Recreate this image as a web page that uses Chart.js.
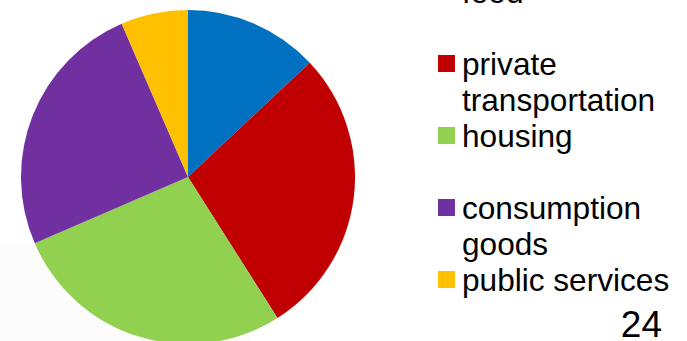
<!DOCTYPE html>
<html>
<head>
<meta charset="utf-8">
<script src="https://cdn.jsdelivr.net/npm/chart.js@4/dist/chart.umd.min.js"></script>
<style>
  html, body { margin: 0; padding: 0; background: #fff; overflow: hidden; }
  body { width: 687px; height: 341px; position: relative; font-family: "Liberation Sans", Arial, sans-serif; }
  #shade { position: absolute; left: 0; top: 245px; width: 250px; height: 96px; background: #fcfcfc; }
  #pieWrap { position: absolute; left: 21px; top: 10px; width: 334px; height: 334px; }
  #legend { position: absolute; left: 438px; top: -26px; width: 245px; margin: 0; padding: 0; list-style: none; }
  #legend li { position: relative; height: 72px; padding-left: 24px; font-size: 31.6px; line-height: 36px; color: #000; }
  #legend .box { position: absolute; left: 0; top: 9px; width: 17px; height: 17px; }
  #page { position: absolute; right: 25px; top: 307px; font-size: 37px; line-height: 36px; color: #000; }
</style>
</head>
<body>
<div id="shade"></div>
<div id="pieWrap"><canvas id="pieChart" width="334" height="334"></canvas></div>
<ul id="legend"></ul>
<div id="page">24</div>
<script>
const categories = ['food', 'private transportation', 'housing', 'consumption goods', 'public services']
const shares = [13, 28, 27.5, 25, 6.5]
const sliceColors = ['#0070C0', '#C00000', '#92D050', '#7030A0', '#FFC000']

const chart = new Chart('pieChart', {
    type: 'pie',
    data: {
        labels: categories,
        datasets: [{
            data: shares,
            backgroundColor: sliceColors,
            borderWidth: 0
        }]
    },
    options: {
        responsive: false,
        animation: false,
        layout: { padding: 0 },
        plugins: {
            legend: { display: false },
            tooltip: { enabled: false }
        }
    }
})

// legend built from the chart's own labels so wrapping can follow the text
const legendEl = document.getElementById('legend')
chart.options.plugins.legend.labels.generateLabels(chart).forEach(item => {
    const li = document.createElement('li')
    const box = document.createElement('span')
    box.className = 'box'
    box.style.background = item.fillStyle
    li.appendChild(box)
    li.appendChild(document.createTextNode(item.text))
    legendEl.appendChild(li)
})
</script>
</body>
</html>
